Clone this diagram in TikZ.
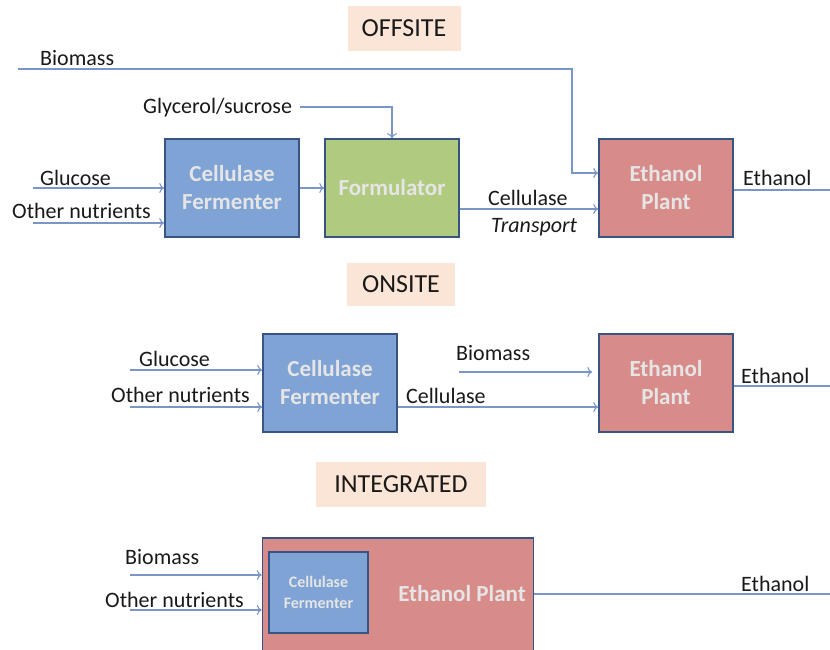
\documentclass[tikz,border=0pt]{standalone}
\usepackage{fontspec}
\setmainfont{Carlito}
\usetikzlibrary{arrows.meta}
\definecolor{fermblue}{RGB}{126,163,212}
\definecolor{formgreen}{RGB}{176,203,128}
\definecolor{plantred}{RGB}{216,140,138}
\definecolor{boxedge}{RGB}{56,84,132}
\definecolor{flowblue}{RGB}{122,150,200}
\definecolor{tagpeach}{RGB}{251,229,214}
\definecolor{inktext}{RGB}{25,25,25}
\newcommand{\lbl}[1]{\fontsize{22}{26}\selectfont #1}

\begin{document}
\begin{tikzpicture}[
      x=1pt,y=-1pt,
      unit/.style={draw=boxedge,line width=1.6pt,minimum width=134pt,minimum height=98pt,
                   text=white!90!black,align=center,inner sep=0pt,
                   font=\fontsize{23}{28}\selectfont\bfseries},
      tag/.style={fill=tagpeach,inner sep=0pt,text=inktext,font=\fontsize{26}{30}\selectfont},
      word/.style={anchor=base west,inner sep=0pt,text=inktext},
      flow/.style={draw=flowblue,line width=1.1pt,-{To[length=5pt,width=10pt]}}
    ]
    \useasboundingbox (0,0) rectangle (830,649);
    % OFFSITE
    \node[tag,minimum width=113pt,minimum height=45pt] (offtag) at (404,28) {OFFSITE};
    \node[unit,fill=fermblue] (ferm1) at (232,188) {Cellulase\\Fermenter};
    \node[unit,fill=formgreen] (form1) at (392,188) {Formulator};
    \node[unit,fill=plantred] (eth1) at (666,188) {Ethanol\\Plant};
    \node[word] (bio1t) at (40,65) {\lbl{Biomass}};
    \node[word] (glyt) at (143,113) {\lbl{Glycerol/sucrose}};
    \node[word] (glu1t) at (40,185) {\lbl{Glucose}};
    \node[word] (nut1t) at (12,218) {\lbl{Other nutrients}};
    \node[word] (cel1t) at (488,205) {\lbl{Cellulase}};
    \node[word] (trant) at (491,232) {\lbl{\itshape Transport}};
    \node[word] (out1t) at (743,185) {\lbl{Ethanol}};
    \coordinate (bio1a) at (18,69);
    \coordinate (bio1b) at (572,69);
    \coordinate (gly1a) at (300,107);
    \coordinate (glu1a) at (33,188);
    \coordinate (nut1a) at (33,223);
    \coordinate (out1a) at (836,190);
    \draw[flow] (bio1a) -- (bio1b) |- ([yshift=15pt]eth1.west);
    \draw[flow] (gly1a) -| (form1.north);
    \draw[flow] (glu1a) -- (ferm1.west |- glu1a);
    \draw[flow] (nut1a) -- (ferm1.west |- nut1a);
    \draw[flow] (ferm1.east |- glu1a) -- (form1.west |- glu1a);
    \draw[flow] ([yshift=-21pt]form1.east) -- ([yshift=-21pt]eth1.west);
    \draw[flow] (eth1.east |- out1a) -- (out1a);
    % ONSITE
    \node[tag,minimum width=108pt,minimum height=43pt] (ontag) at (401,284) {ONSITE};
    \node[unit,fill=fermblue] (ferm2) at (330,383) {Cellulase\\Fermenter};
    \node[unit,fill=plantred] (eth2) at (666,383) {Ethanol\\Plant};
    \node[word] (glu2t) at (139,366) {\lbl{Glucose}};
    \node[word] (nut2t) at (111,402) {\lbl{Other nutrients}};
    \node[word] (bio2t) at (456,360) {\lbl{Biomass}};
    \node[word] (cel2t) at (406,403) {\lbl{Cellulase}};
    \node[word] (out2t) at (741,383) {\lbl{Ethanol}};
    \coordinate (glu2a) at (130,370);
    \coordinate (nut2a) at (130,407);
    \coordinate (bio2a) at (459,372);
    \coordinate (out2a) at (836,386);
    \draw[flow] (glu2a) -- (ferm2.west |- glu2a);
    \draw[flow] (nut2a) -- (ferm2.west |- nut2a);
    \draw[flow] (bio2a) -- ([xshift=-6pt]eth2.west |- bio2a);
    \draw[flow] (ferm2.east |- nut2a) -- (eth2.west |- nut2a);
    \draw[flow] (eth2.east |- out2a) -- (out2a);
    % INTEGRATED
    \node[tag,minimum width=170pt,minimum height=45pt] (inttag) at (401,484) {INTEGRATED};
    \node[unit,fill=plantred,minimum width=271pt,minimum height=130pt] (eth3) at (398,603) {};
    \node[unit,fill=fermblue,minimum width=99pt,minimum height=81pt,
          font=\fontsize{16}{21}\selectfont\bfseries] (ferm3) at (318.5,592.5) {Cellulase\\Fermenter};
    \node[text=white!90!black,anchor=base,font=\fontsize{23}{28}\selectfont\bfseries] (eth3t) at (462,601) {Ethanol Plant};
    \node[word] (bio3t) at (125,564) {\lbl{Biomass}};
    \node[word] (nut3t) at (105,607) {\lbl{Other nutrients}};
    \node[word] (out3t) at (741,591) {\lbl{Ethanol}};
    \coordinate (bio3a) at (130,575);
    \coordinate (nut3a) at (130,610);
    \coordinate (out3a) at (836,594);
    \draw[flow] (bio3a) -- (eth3.west |- bio3a);
    \draw[flow] (nut3a) -- (eth3.west |- nut3a);
    \draw[flow] (eth3.east |- out3a) -- (out3a);
    \end{tikzpicture}
\end{document}
